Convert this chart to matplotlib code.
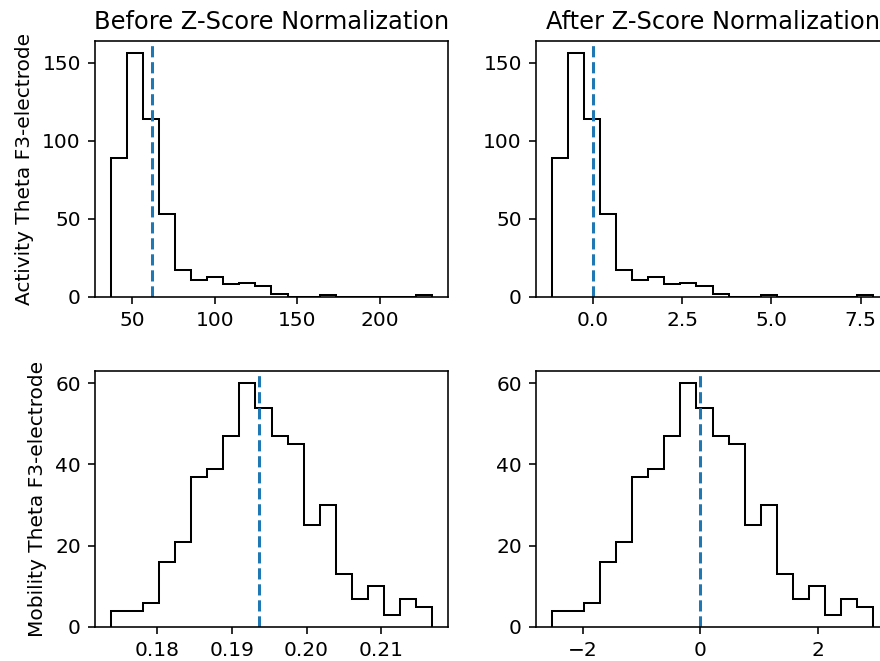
import numpy as np
import matplotlib
matplotlib.use("Agg")
import matplotlib.pyplot as plt
from matplotlib.ticker import MultipleLocator

# Activity Theta F3-electrode histogram (20 bins)
activity_range = (37.3, 231.5)
activity_counts = [89, 156, 114, 53, 17, 11, 13, 8, 9, 7, 2, 0, 0, 1, 0, 0, 0, 0, 0, 1]
activity_mean = 62.1
activity_std = 21.6

# Mobility Theta F3-electrode histogram (20 bins)
mobility_range = (0.17385, 0.21678)
mobility_counts = [4, 4, 6, 16, 21, 37, 39, 47, 60, 54, 47, 45, 25, 30, 13, 7, 10, 3, 7, 5]
mobility_mean = 0.1937
mobility_std = 0.00787

titles = ["Before Z-Score Normalization", "After Z-Score Normalization"]
ylabels = ["Activity Theta F3-electrode", "Mobility Theta F3-electrode"]

DPI = 145
W, H = 880.0, 661.0
fig = plt.figure(figsize=(W / DPI, H / DPI), dpi=DPI)
rows = [(41, 297), (371, 627)]
cols = [(95, 448), (536, 889)]

datasets = [
    (activity_range, activity_counts, activity_mean, activity_std),
    (mobility_range, mobility_counts, mobility_mean, mobility_std),
]

for r, (rng, counts, mean, std) in enumerate(datasets):
    edges = np.linspace(rng[0], rng[1], len(counts) + 1)
    for c in range(2):
        x0, x1 = cols[c]
        y0, y1 = rows[r]
        ax = fig.add_axes([x0 / W, 1 - y1 / H, (x1 - x0) / W, (y1 - y0) / H])
        if c == 0:
            e = edges
            m = mean
        else:
            e = (edges - mean) / std
            m = 0.0
        ax.hist(e[:-1], bins=e, weights=counts, histtype="step", color="black")
        ax.axvline(m, color="C0", linestyle="--")
        if r == 0:
            ax.set_title(titles[c])
            if c == 1:
                ax.xaxis.set_major_locator(MultipleLocator(2.5))
        if c == 0:
            ax.set_ylabel(ylabels[r])

fig.savefig("out.png", dpi=DPI)
